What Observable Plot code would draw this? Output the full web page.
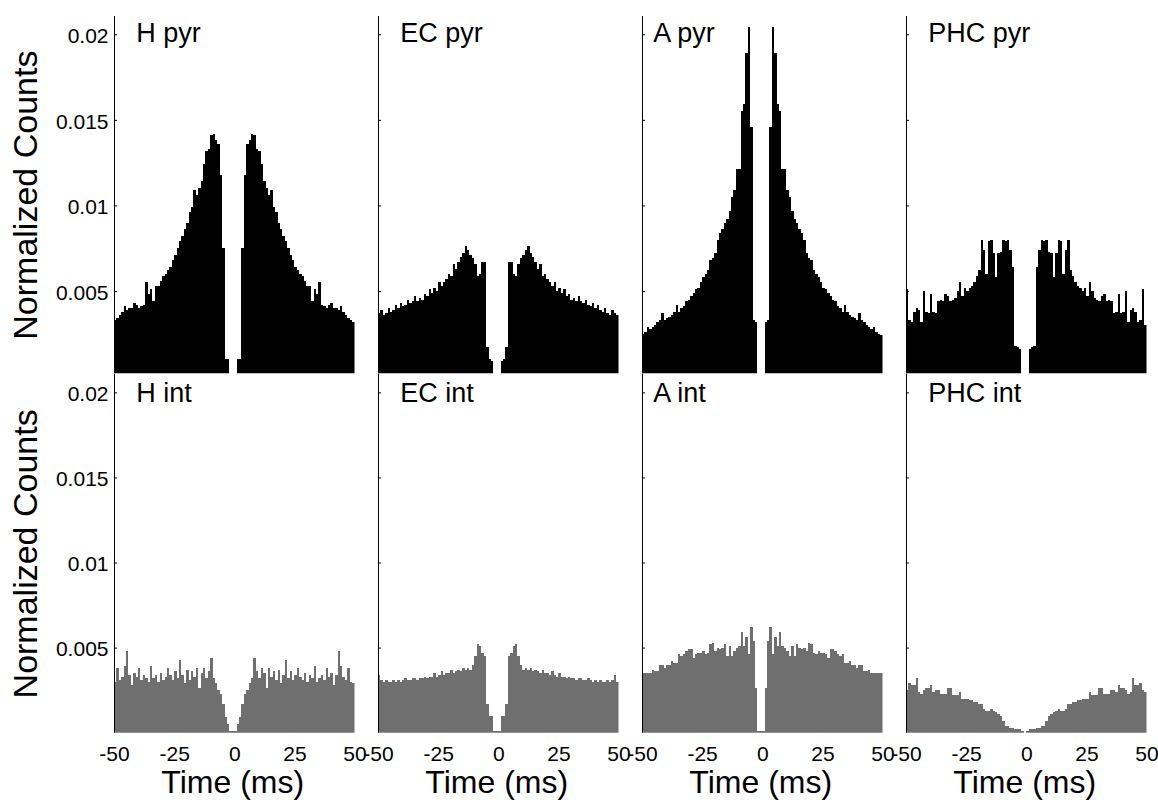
<!DOCTYPE html>
<html>
<head>
<meta charset="utf-8">
<script src="https://cdn.jsdelivr.net/npm/d3@7"></script>
<script src="https://cdn.jsdelivr.net/npm/@observablehq/plot@0.6"></script>
<style>
  body { margin: 0; background: #fff; }
  #chart { position: relative; width: 1158px; height: 802px; background: #fff; }
  #chart svg { position: absolute; left: 0; }
</style>
</head>
<body>
<div id="chart"></div>
<script>
// ---------- data ----------
const regions = ["H", "EC", "A", "PHC"];
const pyrLabels = ["H pyr", "EC pyr", "A pyr", "PHC pyr"];
const intLabels = ["H int", "EC int", "A int", "PHC int"];
const lags = d3.range(-50, 51);            // lag bins, ms
const yTicks = [0.005, 0.01, 0.015, 0.02];
const xTicks = [-50, -25, 0, 25, 50];
const unit = 1e-4;                          // values below are normalized counts x 1e-4

const hPyr = [32,33,34,36,38,41,39,40,40,43,42,40,41,42,55,48,51,44,53,53,56,59,60,62,64,68,71,75,79,82,86,90,96,99,109,106,110,114,124,132,133,141,142,138,136,118,75,10,10,0,
  0,
  0,10,10,75,118,136,138,142,141,133,132,124,114,110,106,109,99,96,90,86,82,79,75,71,68,64,62,60,59,56,53,53,44,51,48,55,42,41,40,42,43,40,40,39,41,38,36,34,33,32];
const ecPyr = [36,37,39,36,37,40,38,39,42,40,43,41,42,45,43,44,47,44,46,45,48,47,51,49,52,50,55,53,55,57,60,59,66,63,67,70,72,76,74,71,69,66,59,60,67,67,17,10,9,0,
  0,
  0,9,10,17,67,67,60,59,66,69,71,74,76,72,70,67,63,66,59,60,57,55,53,55,50,52,49,51,47,48,45,46,44,47,44,43,45,42,41,43,40,42,39,38,40,37,36,39,37,36];
const aPyr = [24,25,26,29,28,29,30,32,33,37,33,34,35,36,38,42,38,40,41,44,45,47,49,51,52,55,58,60,62,68,69,72,80,84,86,90,92,97,105,109,121,121,155,159,189,204,146,33,32,0,
  0,
  0,32,33,146,204,189,159,155,121,121,109,105,97,92,90,86,84,80,72,69,68,62,60,58,55,52,51,49,47,45,44,41,40,38,42,38,36,35,34,33,37,33,32,30,29,28,29,26,25,24];
const phcPyr = [30,51,33,32,38,40,39,32,50,38,37,48,38,37,44,45,44,48,47,44,45,46,50,55,47,52,50,52,53,55,59,62,80,74,60,79,80,72,58,72,73,80,79,80,74,64,18,17,16,0,
  0,
  0,16,17,18,64,74,80,79,80,73,72,58,72,80,79,60,74,80,62,59,55,53,52,50,52,47,55,50,46,45,44,47,48,44,45,44,37,38,48,37,38,50,32,39,40,38,32,33,51,30];

const hInt = [29,30,38,31,33,39,48,34,28,35,33,38,31,34,32,30,39,32,34,30,35,31,33,38,34,31,36,32,43,34,29,37,31,36,33,38,26,35,38,32,36,44,32,29,25,23,17,9,5,1,
  1,
  1,5,9,17,23,25,29,32,44,36,32,38,35,26,38,33,36,31,37,29,34,43,32,36,31,34,38,33,31,35,30,34,32,39,30,32,34,31,38,33,35,28,34,48,39,33,31,38,30,29];
const ecInt = [30,34,31,30,31,30,30,31,30,31,30,31,32,31,31,32,32,31,32,32,33,32,33,33,35,33,34,36,34,35,35,37,35,36,37,36,38,37,38,37,40,45,52,51,47,45,17,10,10,1,
  1,
  1,10,10,17,45,47,51,52,45,40,37,38,37,38,36,37,36,35,37,35,35,34,36,34,33,35,33,33,32,33,32,32,31,32,32,31,31,32,31,30,31,30,31,30,30,31,30,31,34,30];
const aInt = [35,35,35,35,35,37,36,36,40,40,38,40,40,42,41,41,46,45,46,48,49,49,44,46,47,47,48,46,47,52,53,48,50,49,50,52,45,51,45,48,50,51,59,51,56,46,62,54,26,1,
  1,
  1,26,54,62,46,56,51,59,51,50,48,45,51,45,52,50,49,50,48,53,52,47,46,48,47,47,46,44,49,49,48,46,45,46,41,41,42,40,40,38,40,40,36,36,37,35,35,35,35,35];
const phcInt = [24,25,29,28,28,32,24,23,25,26,26,28,24,25,25,23,23,23,26,26,22,22,22,24,20,20,20,19,19,18,18,17,17,14,13,13,14,13,12,11,10,7,4,4,3,3,2,2,2,1,
  0,
  1,2,2,2,3,3,4,4,7,10,11,12,13,14,13,13,14,17,17,18,18,19,19,20,20,20,24,22,22,22,26,26,23,23,23,25,25,24,28,26,26,25,23,24,32,28,28,29,25,24];

// ---------- layout (not data) ----------
const FONT = "'Liberation Sans', Arial, Helvetica, sans-serif";
const labelX = {H: -41, EC: -41, A: -45.5, PHC: -41};

const series = {
  pyr: {H: hPyr, EC: ecPyr, A: aPyr, PHC: phcPyr},
  int: {H: hInt, EC: ecInt, A: aInt, PHC: phcInt}
};
function rows(type) {
  return regions.flatMap(r => series[type][r].map((v, i) => ({region: r, lag: lags[i], value: v * unit})));
}

function row({type, labels, height, marginTop, marginBottom, yDomain, fill, labelDy, withX}) {
  const labelRows = regions.map((r, i) => ({region: r, label: labels[i], lx: labelX[r]}));
  return Plot.plot({
    width: 1158,
    height,
    marginLeft: 114,
    marginRight: 11.5,
    marginTop,
    marginBottom,
    style: {fontFamily: FONT, background: "transparent", overflow: "visible", color: "#000"},
    x: {domain: [-50, 50], axis: null},
    y: {domain: yDomain},
    fx: {domain: regions, paddingInner: 0.089, paddingOuter: 0, round: false, axis: null, label: null},
    marks: [
      Plot.rect(rows(type), {
        fx: "region", x1: d => d.lag - 1, x2: d => d.lag, y1: 0, y2: "value",
        fill, inset: 0, clip: true, shapeRendering: "crispEdges"
      }),
      Plot.ruleX([-50], {stroke: "#000", strokeWidth: 1}),
      Plot.axisY(yTicks, {facetAnchor: null, tickSize: -3, fill: "none", label: null}),
      Plot.axisY(yTicks, {tickSize: 0, tickPadding: 6, fontSize: 21, dy: 1.5, tickFormat: d => String(d), label: null, stroke: "none"}),
      withX ? Plot.axisX(xTicks, {tickSize: 0, tickPadding: 13, fontSize: 21, tickFormat: d => String(d), label: null}) : null,
      withX ? Plot.text(regions, {fx: d => d, text: () => "Time (ms)", frameAnchor: "bottom", lineAnchor: "bottom", dy: 60, dx: -2, fontSize: 32}) : null,
      Plot.text(labelRows, {fx: "region", x: "lx", text: "label", frameAnchor: "top", textAnchor: "start", lineAnchor: "bottom", dy: labelDy, fontSize: 27}),
      Plot.text(["H"], {fx: d => d, text: () => "Normalized Counts", frameAnchor: "left", textAnchor: "middle", lineAnchor: "middle", rotate: -90, dx: -88, fontSize: 34})
    ]
  });
}

const chart = document.getElementById("chart");
const topRow = row({
  type: "pyr", labels: pyrLabels, height: 374, marginTop: 16, marginBottom: 0.7,
  yDomain: [0.00019, 0.02107], fill: "#000", labelDy: 25.7, withX: false
});
topRow.style.top = "0px";
const bottomRow = row({
  type: "int", labels: intLabels, height: 428, marginTop: 0, marginBottom: 69.3,
  yDomain: [0, 0.02108], fill: "#6f6f6f", labelDy: 27.7, withX: true
});
bottomRow.style.top = "374px";
chart.append(topRow, bottomRow);
</script>
</body>
</html>
